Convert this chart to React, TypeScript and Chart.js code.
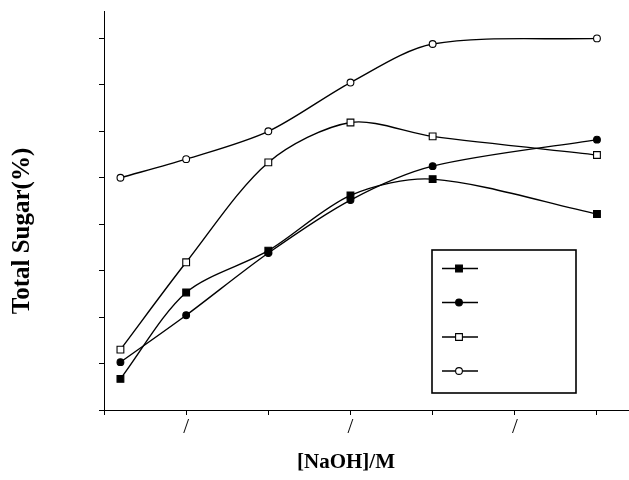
import React, { useEffect, useRef } from "react";
import { Chart, registerables } from "chart.js";
import { drawPoint } from "chart.js/helpers";

Chart.register(...registerables);

// ---- data ----
const xValues = [0.2, 1, 2, 3, 4, 6];
const filledSquare = [0.67, 2.53, 3.43, 4.62, 4.97, 4.22];
const filledCircle = [1.03, 2.04, 3.38, 4.52, 5.25, 5.82];
const openSquare = [1.3, 3.18, 5.33, 6.19, 5.89, 5.49];
const openCircle = [5.0, 5.4, 6.0, 7.05, 7.88, 8.0];

const xTickValues = [0, 1, 2, 3, 4, 5, 6];
const xTickLabels = ["", "/", "", "/", "", "/", ""];
const yTickValues = [0, 1, 2, 3, 4, 5, 6, 7, 8];

const xTitle = "[NaOH]/M";
const yTitle = "Total Sugar(%)";

const FONT = "'Liberation Serif', 'Times New Roman', serif";

const decorPlugin = {
  id: "decor",
  afterDraw(chart: any) {
    const ctx = chart.ctx as CanvasRenderingContext2D;
    ctx.save();
    // axis titles
    ctx.fillStyle = "#000";
    ctx.textAlign = "center";
    ctx.textBaseline = "middle";
    ctx.font = `bold 21px ${FONT}`;
    ctx.fillText(xTitle, 346, 463);
    ctx.save();
    ctx.translate(22.5, 231);
    ctx.rotate(-Math.PI / 2);
    ctx.font = `bold 25px ${FONT}`;
    ctx.fillText(yTitle, 0, 0);
    ctx.restore();

    // legend box
    ctx.lineWidth = 1.6;
    ctx.strokeStyle = "#000";
    ctx.strokeRect(432, 250, 144, 143);
    const rows = [268.5, 302.5, 337, 371];
    chart.data.datasets.forEach((ds: any, i: number) => {
      const y = rows[i];
      ctx.beginPath();
      ctx.lineWidth = 1.3;
      ctx.strokeStyle = "#000";
      ctx.moveTo(442, y);
      ctx.lineTo(478, y);
      ctx.stroke();
      ctx.fillStyle = ds.pointBackgroundColor;
      ctx.strokeStyle = ds.pointBorderColor;
      ctx.lineWidth = ds.pointBorderWidth;
      drawPoint(
        ctx,
        {
          pointStyle: ds.pointStyle,
          radius: ds.pointRadius,
          borderWidth: ds.pointBorderWidth,
          rotation: 0,
        } as any,
        459,
        y
      );
    });
    ctx.restore();
  },
};

function makeDataset(label: string, values: number[], style: string, filled: boolean) {
  return {
    label,
    data: xValues.map((x, i) => ({ x, y: values[i] })),
    borderColor: "#000",
    borderWidth: 1.4,
    tension: 0.3,
    pointStyle: style,
    pointRadius: style === "rect" ? 4.8 : 3.4,
    pointBorderWidth: 1.1,
    pointBorderColor: "#000",
    pointBackgroundColor: filled ? "#000" : "#fff",
    fill: false,
  };
}

export default function App() {
  const ref = useRef<HTMLCanvasElement>(null);
  useEffect(() => {
    if (!ref.current) return;
    const chart = new Chart(ref.current, {
      type: "line",
      data: {
        datasets: [
          makeDataset("Series 1", filledSquare, "rect", true),
          makeDataset("Series 2", filledCircle, "circle", true),
          makeDataset("Series 3", openSquare, "rect", false),
          makeDataset("Series 4", openCircle, "circle", false),
        ],
      },
      options: {
        animation: false,
        responsive: false,
        devicePixelRatio: 1,
        layout: { autoPadding: false, padding: { top: 11, left: 0, right: 0, bottom: 0 } },
        plugins: {
          legend: { display: false },
          tooltip: { enabled: false },
        },
        scales: {
          x: {
            type: "linear",
            min: 0,
            max: 6.39,
            afterBuildTicks: (s: any) => {
              s.ticks = xTickValues.map((v) => ({ value: v }));
            },
            afterFit: (s: any) => {
              s.height = 70;
            },
            ticks: {
              autoSkip: false,
              maxRotation: 0,
              padding: 0,
              color: "#000",
              font: { family: FONT, size: 21 },
              callback: (v: any) => {
                const idx = xTickValues.indexOf(Number(v));
                return idx >= 0 ? xTickLabels[idx] : "";
              },
            },
            grid: {
              drawOnChartArea: false,
              drawTicks: true,
              tickLength: 5,
              color: "#000",
              lineWidth: 1,
            },
            border: { display: true, color: "#000", width: 1 },
          },
          y: {
            type: "linear",
            min: 0,
            max: 8.59,
            afterBuildTicks: (s: any) => {
              s.ticks = yTickValues.map((v) => ({ value: v }));
            },
            afterFit: (s: any) => {
              s.width = 104;
            },
            ticks: {
              callback: () => "",
            },
            grid: {
              drawOnChartArea: false,
              drawTicks: true,
              tickLength: 5,
              color: "#000",
              lineWidth: 1,
            },
            border: { display: true, color: "#000", width: 1 },
          },
        },
      },
      plugins: [decorPlugin],
    });
    return () => chart.destroy();
  }, []);
  return (
    <div style={{ position: "absolute", left: 0, top: 0, width: 629, height: 480, background: "#fff" }}>
      <canvas ref={ref} width={629} height={480} style={{ width: 629, height: 480, display: "block" }} />
    </div>
  );
}
